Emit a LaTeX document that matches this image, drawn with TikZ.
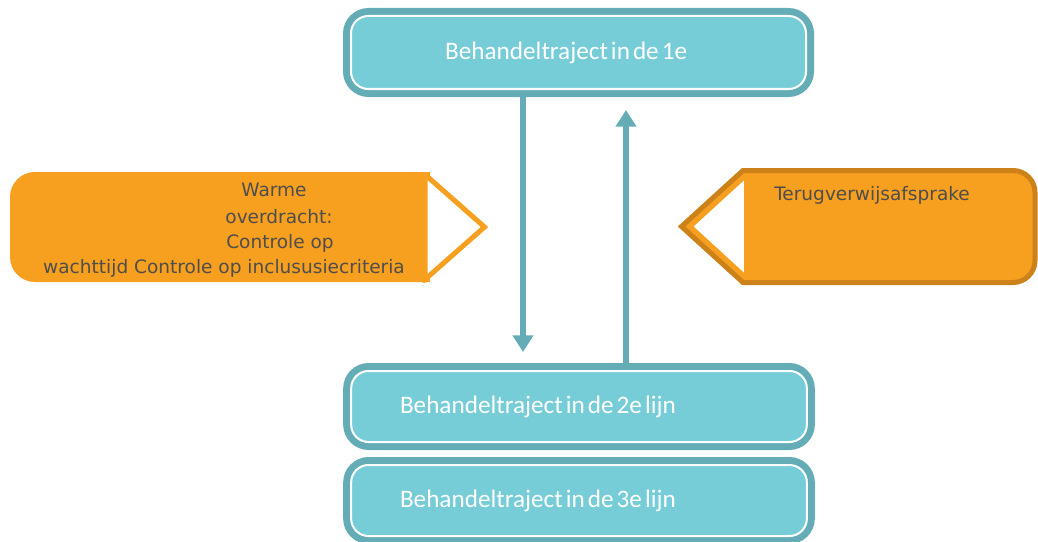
\documentclass[tikz,border=0pt]{standalone}
\usepackage{fontspec}
\setmainfont{Carlito}
\newfontfamily\verdanaachtig{DejaVu Sans}
\usepackage{xcolor}
\usepackage{tikz}
\usetikzlibrary{arrows.meta,positioning,calc}

\definecolor{tealvul}{RGB}{118,205,216}
\definecolor{tealrand}{RGB}{100,173,183}
\definecolor{oranjevul}{RGB}{247,159,31}
\definecolor{oranjerand}{RGB}{204,130,25}
\definecolor{grijstekst}{RGB}{78,78,78}

\tikzset{
  lijnblok/.style={draw=tealrand, fill=tealvul, line width=5.25pt, outer sep=0pt,
    rounded corners=16.5pt, minimum width=348pt, text=white, align=left,
    font=\fontsize{18.9}{22}\selectfont,
    execute at begin node={\spaceskip=0.12em\relax}},
  binnenrand/.style={draw=white, line width=1.5pt, rounded corners=13pt},
  pijl/.style={draw=tealrand, line width=4.5pt, -{Triangle[length=12.5pt,width=15pt]}},
  oranjetekst/.style={text=grijstekst, inner sep=0pt, anchor=base,
    font=\verdanaachtig\fontsize{13.9}{19}\selectfont},
}

\begin{document}
\begin{tikzpicture}[x=0.75pt, y=-0.75pt]
  \useasboundingbox (0,0) rectangle (1038,542);
  % de drie lijnen
  \node[lijnblok, minimum height=61.5pt, text width=200pt, inner xsep=73pt]
       (eerste) at (578.5,52.5) {Behandeltraject in de 1e};
  \node[lijnblok, minimum height=60pt, text width=268.5pt, inner xsep=40pt]
       (tweede) at (579,406.5) {Behandeltraject in de 2e lijn};
  \node[lijnblok, minimum height=60pt, text width=268.5pt, inner xsep=40pt]
       (derde) at (579,500.5) {Behandeltraject in de 3e lijn};
  \foreach \blok in {eerste,tweede,derde}
    \draw[binnenrand] ($(\blok.north west)+(4.5,4.5)$) rectangle ($(\blok.south east)-(4.5,4.5)$);
  % verwijzen en terugverwijzen
  \coordinate (puntneer) at (523,352);
  \coordinate (puntop) at (626,110);
  \draw[pijl] (eerste.south -| puntneer) -- (puntneer);
  \draw[pijl] (tweede.north -| puntop) -- (puntop);
  % warme overdracht (links)
  \fill[oranjevul] (430,172) -- (35,172) arc (270:180:25) -- (10,257) arc (180:90:25)
        -- (430,282) -- cycle;
  \begin{scope}
    \clip (0,172) rectangle (500,282);
    \filldraw[draw=oranjevul, fill=white, line width=3.75pt]
        (425,174.5) -- (484.5,227) -- (425,279.5) -- cycle;
  \end{scope}
  \node[oranjetekst] (warme) at (274,196) {Warme};
  \node[oranjetekst] (overdracht) at (279,223) {overdracht:};
  \node[oranjetekst] (controle) at (280,248) {Controle op};
  \node[oranjetekst] (wachttijd) at (224,273) {wachttijd Controle op inclususiecriteria};
  % terugverwijsafspraken (rechts)
  \filldraw[draw=oranjerand, fill=oranjevul, line width=3.75pt]
        (743,170.5) -- (1013,170.5) arc (270:360:22) -- (1035,260.5) arc (0:90:22)
        -- (743,282.5) -- (681.5,226.5) -- cycle;
  \filldraw[draw=oranjevul, fill=white, line width=1.5pt]
        (745,178) -- (692,226.5) -- (745,275) -- cycle;
  \node[oranjetekst, anchor=base west] (terug) at (774,200) {Terugverwijsafsprake};
\end{tikzpicture}
\end{document}
